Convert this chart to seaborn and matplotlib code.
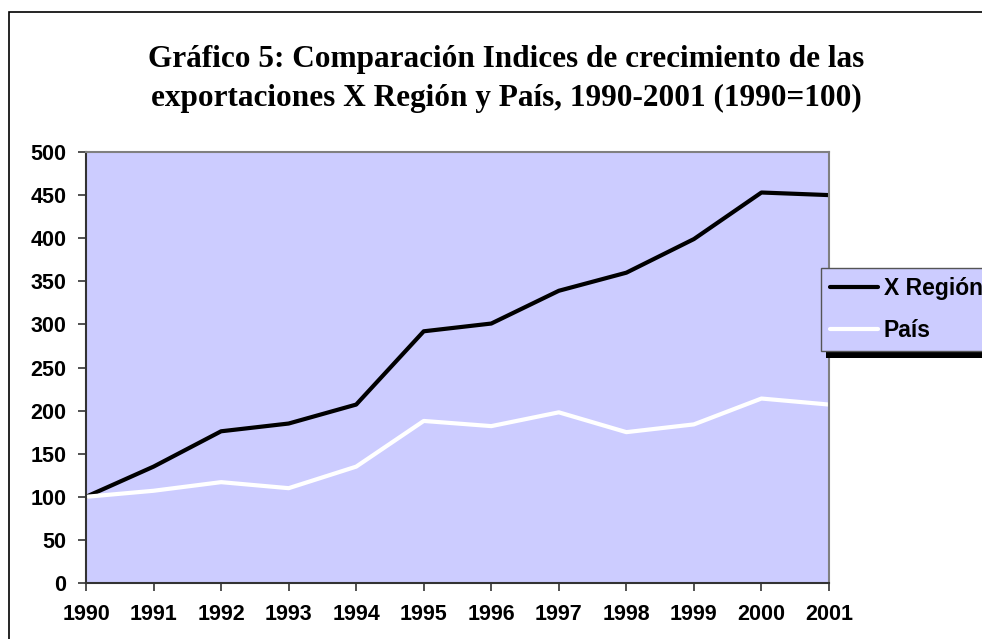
import pandas as pd
import seaborn as sns
import matplotlib.pyplot as plt
from matplotlib.patches import Rectangle

# data (1990=100)
years = list(range(1990, 2002))
x_region = [100, 135, 176, 185, 207, 292, 301, 339, 360, 399, 453, 450]
pais = [100, 107, 117, 110, 135, 188, 182, 198, 175, 184, 214, 207]
series_names = ["X Región", "País"]
title_lines = ["Gráfico 5: Comparación Indices de crecimiento de las",
               "exportaciones X Región y País, 1990-2001 (1990=100)"]
y_ticks = [0, 50, 100, 150, 200, 250, 300, 350, 400, 450, 500]

df = pd.DataFrame({
    "year": years * 2,
    "value": x_region + pais,
    "serie": [series_names[0]] * len(years) + [series_names[1]] * len(years),
})

sns.set_style("white")
plt.rcParams["font.family"] = ["Liberation Sans", "DejaVu Sans"]
plt.rcParams["text.color"] = "black"
plt.rcParams["xtick.color"] = "black"
plt.rcParams["ytick.color"] = "black"

fig = plt.figure(figsize=(9.82, 6.39), dpi=100)
ax = fig.add_axes([86 / 982, 1 - 583 / 639, (829 - 86) / 982, (583 - 152) / 639])
ax.set_facecolor("#ccccff")

sns.lineplot(data=df, x="year", y="value", hue="serie",
             palette={series_names[0]: "black", series_names[1]: "white"},
             linewidth=3.0, ax=ax, legend=False)

ax.set_xlim(1990, 2001)
ax.set_ylim(0, 500)
ax.set_xticks(years)
ax.set_yticks(y_ticks)
ax.set_xlabel("")
ax.set_ylabel("")
for lab in ax.get_xticklabels() + ax.get_yticklabels():
    lab.set_fontweight("bold")
    lab.set_fontsize(15.5)
    lab.set_color("black")
ax.tick_params(axis="both", direction="out", length=6, width=1.2, color="#333333",
               bottom=True, left=True)
ax.tick_params(axis="y", pad=8)
ax.tick_params(axis="x", pad=9)

for side in ["left", "bottom"]:
    ax.spines[side].set_color("#333333")
    ax.spines[side].set_linewidth(1.5)
for side in ["top", "right"]:
    ax.spines[side].set_color("#808080")
    ax.spines[side].set_linewidth(1.5)

# legend, partly outside the figure like the original
handles = [plt.Line2D([], [], color="black", lw=3.0),
           plt.Line2D([], [], color="white", lw=3.0)]
leg = fig.legend(handles, series_names, loc="upper left",
                 bbox_to_anchor=(821 / 982, 1 - 268 / 639),
                 prop={"weight": "bold", "size": 16.5}, frameon=True,
                 fancybox=False, handlelength=2.1, handletextpad=0.25,
                 borderpad=0.39, labelspacing=0.83, borderaxespad=0)
leg.get_frame().set_facecolor("#ccccff")
leg.get_frame().set_edgecolor("#555555")
leg.get_frame().set_linewidth(1.0)
leg.get_frame().set_alpha(1)
leg.set_zorder(5)
for t in leg.get_texts():
    t.set_color("black")

fig.canvas.draw()
bb = leg.get_window_extent().transformed(fig.transFigure.inverted())
shadow = Rectangle((bb.x0 + 5 / 982, bb.y0 - 7 / 639), bb.width, bb.height,
                   transform=fig.transFigure, facecolor="black", edgecolor="none",
                   zorder=4)
fig.add_artist(shadow)

# title
fig.text(506 / 982, 1 - 60 / 639, title_lines[0], ha="center", va="center",
         family=["Liberation Serif", "DejaVu Serif"], fontweight="bold",
         fontsize=22.5, color="black")
fig.text(506 / 982, 1 - 98 / 639, title_lines[1], ha="center", va="center",
         family=["Liberation Serif", "DejaVu Serif"], fontweight="bold",
         fontsize=22.5, color="black")

# outer chart frame (runs past right and bottom edges)
frame = Rectangle((9 / 982, -0.05), 1.1, 1 - 12 / 639 + 0.05,
                  transform=fig.transFigure, fill=False, edgecolor="black",
                  linewidth=1.2, zorder=0)
fig.add_artist(frame)

fig.savefig("out.png", dpi=100)
